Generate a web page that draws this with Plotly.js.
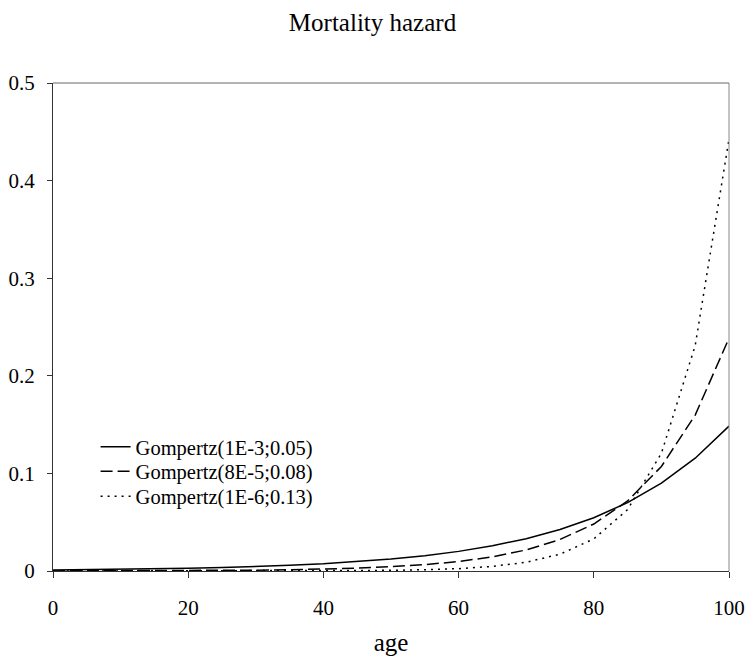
<!DOCTYPE html>
<html>
<head>
<meta charset="utf-8">
<script src="https://cdn.plot.ly/plotly-3.0.1.min.js"></script>
<style>html,body{margin:0;padding:0;background:#fff;}#chart{width:745px;height:657px;}</style>
</head>
<body>
<div id="chart"></div>
<script>
// Ages (x axis)
const ages = [0,5,10,15,20,25,30,35,40,45,50,55,60,65,70,75,80,85,90,95,100];
// Series values
const gompA = [0.0010,0.0013,0.0016,0.0021,0.0027,0.0035,0.0045,0.0058,0.0074,0.0095,0.0122,0.0157,0.0201,0.0258,0.0331,0.0425,0.0546,0.0701,0.0900,0.1156,0.1484];
const gompB = [0.00008,0.00012,0.00018,0.00027,0.0004,0.00059,0.00088,0.0013,0.002,0.0029,0.0044,0.0065,0.0097,0.0145,0.0216,0.0323,0.0481,0.0718,0.1071,0.1598,0.2385];
const gompC = [0.000001,0.000002,0.000004,0.000007,0.000013,0.000026,0.000049,0.000095,0.00018,0.00035,0.00067,0.0013,0.0024,0.0047,0.009,0.0172,0.0329,0.0629,0.1206,0.231,0.4424];
const seriesNames = ["Gompertz(1E-3;0.05)","Gompertz(8E-5;0.08)","Gompertz(1E-6;0.13)"];
const xTicks = [0,20,40,60,80,100];
const yTicks = [0,0.1,0.2,0.3,0.4,0.5];
const yTickText = ["0","0.1","0.2","0.3","0.4","0.5"];

const font = "Liberation Serif, Times New Roman, serif";
const traces = [
  {x: ages, y: gompA, name: seriesNames[0], legend: "legend", mode: "lines", line: {color: "#000", width: 1.5}},
  {x: ages, y: gompB, name: seriesNames[1], legend: "legend2", mode: "lines", line: {color: "#000", width: 1.5, dash: "12px,5px"}},
  {x: ages, y: gompC, name: seriesNames[2], legend: "legend3", mode: "lines", line: {color: "#000", width: 1.5, dash: "2px,5px"}}
];
function leg(y) {
  return {x: 0.063, y: y, xanchor: "left", yanchor: "top", bgcolor: "rgba(0,0,0,0)", borderwidth: 0,
          font: {family: font, size: 20.5, color: "#000"}};
}
const layout = {
  width: 745, height: 657,
  margin: {l: 53, r: 16, t: 83, b: 86},
  paper_bgcolor: "#fff", plot_bgcolor: "#fff",
  font: {family: font, color: "#000", size: 20},
  title: {text: "Mortality hazard", font: {family: font, size: 25, color: "#000"}, x: 0.5, xanchor: "center", y: 1 - 22/657, yanchor: "middle"},
  showlegend: true,
  legend: leg(0.295), legend2: leg(0.245), legend3: leg(0.194),
  xaxis: {range: [0, 100], tickvals: xTicks, ticktext: xTicks.map(String), showgrid: false, zeroline: false,
          showline: true, linecolor: "#333", linewidth: 1, ticks: "outside", ticklen: 6, tickcolor: "#333",
          ticklabelstandoff: 12,
          tickfont: {family: font, size: 21}, title: {text: "age", font: {family: font, size: 25}, standoff: 14}},
  yaxis: {range: [0, 0.5], tickvals: yTicks, ticktext: yTickText, showgrid: false, zeroline: false,
          showline: true, linecolor: "#333", linewidth: 1, ticks: "outside", ticklen: 5, tickcolor: "#333",
          ticklabelstandoff: 8,
          tickfont: {family: font, size: 21}},
  shapes: [
    {type: "line", xref: "paper", yref: "paper", x0: 0, x1: 1, y0: 1, y1: 1, line: {color: "#666", width: 1}},
    {type: "line", xref: "paper", yref: "paper", x0: 1, x1: 1, y0: 0, y1: 1, line: {color: "#888", width: 1}}
  ]
};
Plotly.newPlot("chart", traces, layout, {displayModeBar: false, staticPlot: true});
</script>
</body>
</html>
